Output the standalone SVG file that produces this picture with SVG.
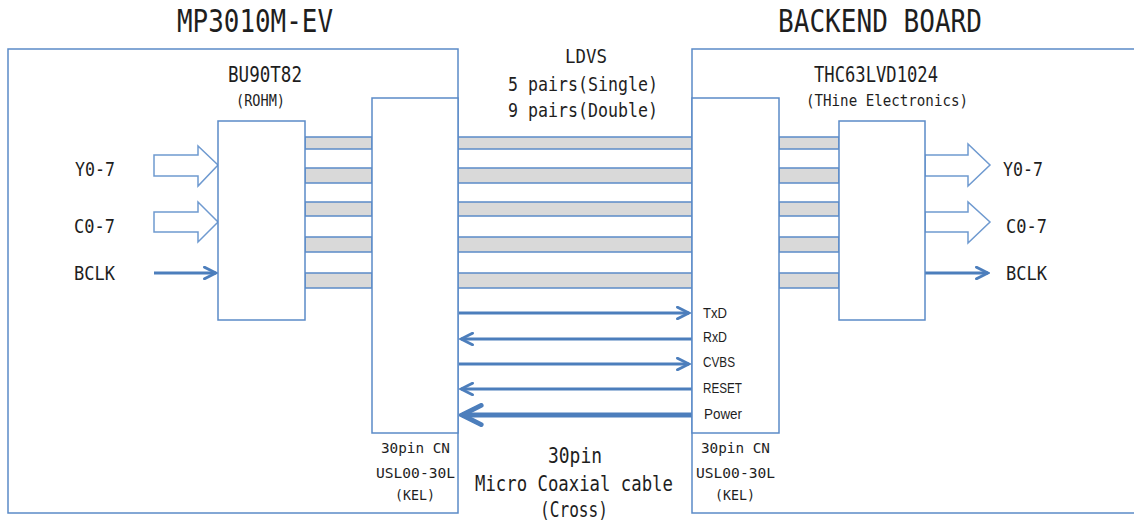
<svg xmlns="http://www.w3.org/2000/svg" width="1134" height="524" viewBox="0 0 1134 524">
<style>
.box{fill:#fff;stroke:#5B8BC7;stroke-width:1.5}
.bus{fill:#D9D9D9;stroke:#5B8BC7;stroke-width:1.5}
.hollow{fill:#fff;stroke:#6F9AD0;stroke-width:1.5}
.sig{stroke:#4C7EBC;stroke-width:3;fill:none}
.pwr{stroke:#4C7EBC;stroke-width:5;fill:none}
.g{font-family:"DejaVu Sans Mono","Liberation Mono",monospace;fill:#1e1e1e}
.a{font-family:"Liberation Sans",Arial,sans-serif;fill:#1e1e1e}
</style>
<defs>
<marker id="chev" viewBox="0 0 10 10" refX="9" refY="5" markerWidth="5" markerHeight="4.8" orient="auto" markerUnits="strokeWidth">
<path d="M1,1 L9,5 L1,9" fill="none" stroke="#4C7EBC" stroke-width="2" stroke-linejoin="miter" stroke-linecap="round"/>
</marker>
</defs>
<rect width="1134" height="524" fill="#fff"/>

<g id="board-left"><rect class="box" x="8" y="49" width="450" height="464"/></g>
<g id="board-right"><rect class="box" x="692" y="49" width="460" height="464"/></g>

<g id="connectors">
<g id="lvds-bus">
<rect class="bus" x="305" y="137" width="67" height="12"/>
<rect class="bus" x="305" y="168" width="67" height="15"/>
<rect class="bus" x="305" y="202" width="67" height="14"/>
<rect class="bus" x="305" y="237" width="67" height="15"/>
<rect class="bus" x="305" y="273" width="67" height="15"/>
<rect class="bus" x="458" y="137" width="234" height="12"/>
<rect class="bus" x="458" y="168" width="234" height="15"/>
<rect class="bus" x="458" y="202" width="234" height="14"/>
<rect class="bus" x="458" y="237" width="234" height="15"/>
<rect class="bus" x="458" y="273" width="234" height="15"/>
<rect class="bus" x="779" y="137" width="60" height="12"/>
<rect class="bus" x="779" y="168" width="60" height="15"/>
<rect class="bus" x="779" y="202" width="60" height="14"/>
<rect class="bus" x="779" y="237" width="60" height="15"/>
<rect class="bus" x="779" y="273" width="60" height="15"/>
</g>
<polygon class="hollow" points="154,155 198,155 198,146 218,165 198,186 198,176 154,176"/>
<polygon class="hollow" points="154,212 198,212 198,202 218,222 198,242 198,232 154,232"/>
<line class="sig" x1="154" y1="273" x2="216" y2="273" marker-end="url(#chev)"/>
<polygon class="hollow" points="925,155 968,155 968,144 990,165 968,186 968,176 925,176"/>
<polygon class="hollow" points="925,212 968,212 968,202 990,222 968,243 968,232 925,232"/>
<line class="sig" x1="925" y1="273" x2="988" y2="273" marker-end="url(#chev)"/>
<line class="sig" x1="459" y1="313" x2="689" y2="313" marker-end="url(#chev)"/>
<line class="sig" x1="692" y1="339" x2="461" y2="339" marker-end="url(#chev)"/>
<line class="sig" x1="459" y1="364" x2="689" y2="364" marker-end="url(#chev)"/>
<line class="sig" x1="692" y1="389" x2="461" y2="389" marker-end="url(#chev)"/>
<line class="pwr" x1="692" y1="415" x2="462" y2="415" marker-end="url(#chev)"/>
</g>

<g id="chip-left"><rect class="box" x="218" y="121" width="87" height="199"/></g>
<g id="conn-left"><rect class="box" x="372" y="98" width="86" height="335"/></g>
<g id="conn-right"><rect class="box" x="692" y="98" width="87" height="335"/></g>
<g id="chip-right"><rect class="box" x="839" y="121" width="86" height="199"/></g>

<g id="labels">
<text class="g" x="177" y="32" font-size="32" textLength="156" lengthAdjust="spacingAndGlyphs">MP3010M-EV</text>
<text class="g" x="778" y="32" font-size="32" textLength="204" lengthAdjust="spacingAndGlyphs">BACKEND BOARD</text>
<text class="g" x="228" y="82" font-size="22" textLength="74" lengthAdjust="spacingAndGlyphs">BU90T82</text>
<text class="g" x="236" y="106" font-size="15" textLength="49" lengthAdjust="spacingAndGlyphs">(ROHM)</text>
<text class="g" x="814" y="82" font-size="22" textLength="124" lengthAdjust="spacingAndGlyphs">THC63LVD1024</text>
<text class="g" x="806" y="106" font-size="15" textLength="162" lengthAdjust="spacingAndGlyphs">(THine Electronics)</text>
<text class="g" x="565" y="63" font-size="20" textLength="42" lengthAdjust="spacingAndGlyphs">LDVS</text>
<text class="g" x="508" y="91" font-size="20" textLength="150" lengthAdjust="spacingAndGlyphs">5 pairs(Single)</text>
<text class="g" x="508" y="117" font-size="20" textLength="150" lengthAdjust="spacingAndGlyphs">9 pairs(Double)</text>
<text class="g" x="75" y="176" font-size="20" textLength="40" lengthAdjust="spacingAndGlyphs">Y0-7</text>
<text class="g" x="74" y="233" font-size="20" textLength="41" lengthAdjust="spacingAndGlyphs">C0-7</text>
<text class="g" x="74" y="280" font-size="20" textLength="41" lengthAdjust="spacingAndGlyphs">BCLK</text>
<text class="g" x="1003" y="176" font-size="20" textLength="40" lengthAdjust="spacingAndGlyphs">Y0-7</text>
<text class="g" x="1006" y="233" font-size="20" textLength="41" lengthAdjust="spacingAndGlyphs">C0-7</text>
<text class="g" x="1006" y="280" font-size="20" textLength="41" lengthAdjust="spacingAndGlyphs">BCLK</text>
<text class="a" x="703" y="318" font-size="15" textLength="24" lengthAdjust="spacingAndGlyphs">TxD</text>
<text class="a" x="703" y="342" font-size="15" textLength="24" lengthAdjust="spacingAndGlyphs">RxD</text>
<text class="a" x="703" y="367" font-size="15" textLength="32" lengthAdjust="spacingAndGlyphs">CVBS</text>
<text class="a" x="703" y="393" font-size="15" textLength="39" lengthAdjust="spacingAndGlyphs">RESET</text>
<text class="a" x="704" y="419" font-size="15" textLength="38" lengthAdjust="spacingAndGlyphs">Power</text>
<text class="g" x="381" y="453" font-size="14" textLength="69" lengthAdjust="spacingAndGlyphs">30pin CN</text>
<text class="g" x="376" y="478" font-size="14" textLength="79" lengthAdjust="spacingAndGlyphs">USL00-30L</text>
<text class="g" x="395" y="500" font-size="14" textLength="40" lengthAdjust="spacingAndGlyphs">(KEL)</text>
<text class="g" x="701" y="453" font-size="14" textLength="69" lengthAdjust="spacingAndGlyphs">30pin CN</text>
<text class="g" x="696" y="478" font-size="14" textLength="79" lengthAdjust="spacingAndGlyphs">USL00-30L</text>
<text class="g" x="715" y="500" font-size="14" textLength="40" lengthAdjust="spacingAndGlyphs">(KEL)</text>
<text class="g" x="548" y="463" font-size="21" textLength="54" lengthAdjust="spacingAndGlyphs">30pin</text>
<text class="g" transform="translate(475,491) scale(0.824,1)" x="0" y="0" font-size="21">Micro Coaxial cable</text>
<text class="g" x="540" y="517" font-size="21" textLength="68" lengthAdjust="spacingAndGlyphs">(Cross)</text>
</g>
</svg>
